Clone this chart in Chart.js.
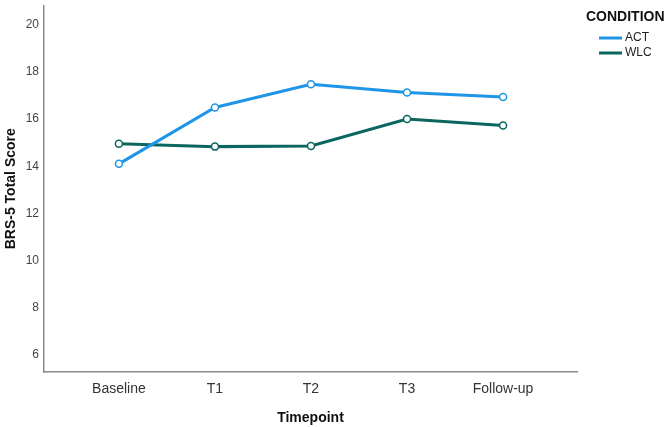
<!DOCTYPE html>
<html>
<head>
<meta charset="utf-8">
<title>BRS-5 Total Score by Timepoint</title>
<script src="https://cdn.jsdelivr.net/npm/chart.js@4/dist/chart.umd.min.js"></script>
<style>
    html, body { margin: 0; padding: 0; background: #fff; }
    #wrap { width: 669px; height: 427px; position: relative; }
</style>
</head>
<body>
<div id="wrap"><canvas id="brsChart"></canvas></div>
<script>
// Chart data
const timepoints = ['Baseline', 'T1', 'T2', 'T3', 'Follow-up'];
const actScores = [14.10, 16.49, 17.47, 17.12, 16.93];
const wlcScores = [14.95, 14.83, 14.86, 16.00, 15.73];
const yTicks = [6, 8, 10, 12, 14, 16, 18, 20];

const actColor = '#1e95e6';
const wlcColor = '#0b6660';
const fontFamily = '"Liberation Sans", Arial, sans-serif';

// turn a series into {x, y} points on the linear x axis
function toPoints(values) {
    return values.map((v, i) => ({ x: i, y: v }));
}

// Legend drawn in the top right corner
const conditionLegend = {
    id: 'conditionLegend',
    afterDraw(chart) {
        const ctx = chart.ctx;
        ctx.save();
        ctx.fillStyle = '#111';
        ctx.font = 'bold 14px ' + fontFamily;
        ctx.textBaseline = 'middle';
        ctx.textAlign = 'left';
        ctx.fillText('CONDITION', 586, 17);

        const items = [
            { label: 'ACT', color: actColor, y: 38 },
            { label: 'WLC', color: wlcColor, y: 53 }
        ];
        ctx.font = '12px ' + fontFamily;
        items.forEach(item => {
            ctx.strokeStyle = item.color;
            ctx.lineWidth = 3;
            ctx.beginPath();
            ctx.moveTo(599, item.y);
            ctx.lineTo(622, item.y);
            ctx.stroke();
            ctx.fillStyle = '#222';
            ctx.fillText(item.label, 625, item.y);
        });
        ctx.restore();
    }
};

const ctx = document.getElementById('brsChart');

new Chart(ctx, {
    type: 'line',
    data: {
        datasets: [
            {
                label: 'ACT',
                data: toPoints(actScores),
                borderColor: actColor,
                backgroundColor: actColor,
                borderWidth: 3,
                pointRadius: 3.5,
                pointBorderWidth: 1.5,
                pointBackgroundColor: '#ffffff',
                pointBorderColor: actColor,
                tension: 0,
                fill: false
            },
            {
                label: 'WLC',
                data: toPoints(wlcScores),
                borderColor: wlcColor,
                backgroundColor: wlcColor,
                borderWidth: 3,
                pointRadius: 3.5,
                pointBorderWidth: 1.5,
                pointBackgroundColor: '#ffffff',
                pointBorderColor: wlcColor,
                tension: 0,
                fill: false
            }
        ]
    },
    options: {
        responsive: true,
        maintainAspectRatio: false,
        animation: false,
        events: [],
        layout: {
            padding: { left: 0, top: 2, right: 92, bottom: 0 }
        },
        plugins: {
            legend: { display: false },
            tooltip: { enabled: false }
        },
        scales: {
            x: {
                type: 'linear',
                min: -0.78,
                max: 4.77,
                afterFit: scale => { scale.height = 55; },
                afterBuildTicks: scale => {
                    scale.ticks = timepoints.map((t, i) => ({ value: i }));
                },
                grid: { display: false, drawTicks: false },
                border: { display: true, color: '#8a8a8a', width: 1.5 },
                ticks: {
                    padding: 9,
                    color: '#333',
                    font: { family: fontFamily, size: 14 },
                    callback: value => timepoints[value]
                },
                title: {
                    display: true,
                    text: 'Timepoint',
                    color: '#111',
                    padding: { top: 4, bottom: 0 },
                    font: { family: fontFamily, size: 14, weight: 'bold' }
                }
            },
            y: {
                min: 5.28,
                max: 20.81,
                afterFit: scale => {
                    scale.width = 44;
                    // no extra room for the end labels
                    scale.paddingTop = 0;
                    scale.paddingBottom = 0;
                },
                afterBuildTicks: scale => {
                    scale.ticks = yTicks.map(v => ({ value: v }));
                },
                grid: { display: false, drawTicks: false },
                border: { display: true, color: '#8a8a8a', width: 1.5 },
                ticks: {
                    padding: 5,
                    color: '#444',
                    font: { family: fontFamily, size: 12 }
                },
                title: {
                    display: true,
                    text: 'BRS-5 Total Score',
                    color: '#111',
                    padding: { top: 3, bottom: 4 },
                    font: { family: fontFamily, size: 14, weight: 'bold' }
                }
            }
        }
    },
    plugins: [conditionLegend]
});
</script>
</body>
</html>
